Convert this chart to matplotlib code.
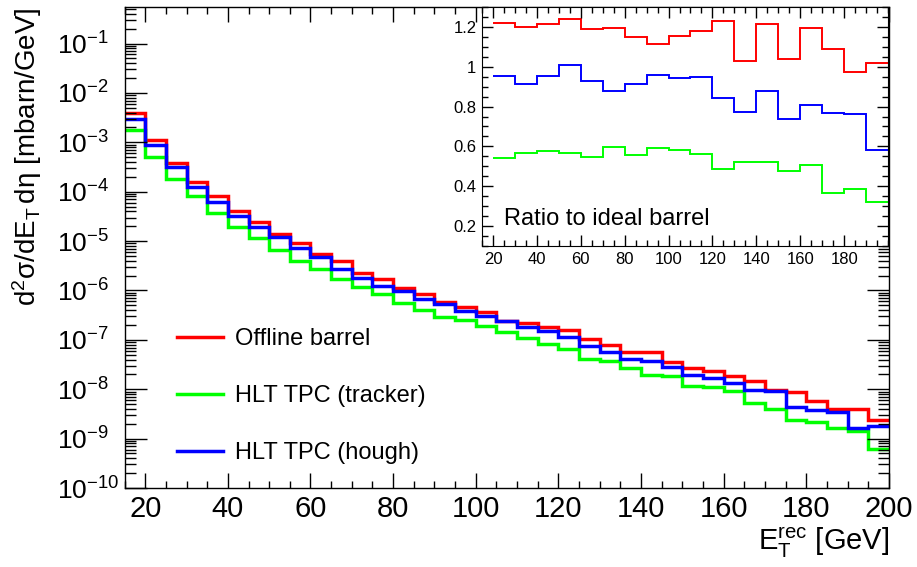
import numpy as np
import matplotlib.pyplot as plt
from matplotlib.ticker import MultipleLocator, LogLocator, NullFormatter
from matplotlib.lines import Line2D

plt.rcParams['font.family'] = ['Liberation Sans', 'DejaVu Sans']
plt.rcParams['mathtext.fontset'] = 'custom'
plt.rcParams['mathtext.rm'] = 'Liberation Sans'
plt.rcParams['mathtext.it'] = 'Liberation Sans'
plt.rcParams['mathtext.sf'] = 'Liberation Sans'
plt.rcParams['mathtext.default'] = 'rm'

# E_T bins (5 GeV from 15 to 200)
edges = np.arange(15, 205, 5)

offline = [4.0e-3, 1.1e-3, 3.9e-4, 1.57e-4, 8.2e-5, 4.06e-5, 2.43e-5, 1.37e-5, 9.2e-6, 5.4e-6,
           3.93e-6, 2.21e-6, 1.67e-6, 1.13e-6, 8.3e-7, 5.9e-7, 4.6e-7, 3.68e-7, 2.46e-7,
           2.2e-7, 1.83e-7, 1.57e-7, 1.06e-7, 7.7e-8, 5.6e-8, 5.6e-8, 3.5e-8, 2.74e-8, 2.38e-8,
           1.89e-8, 1.49e-8, 9.8e-9, 8.8e-9, 5.7e-9, 3.9e-9, 3.9e-9, 2.37e-9]
hough = [2.9e-3, 8.9e-4, 3.1e-4, 1.26e-4, 6.3e-5, 3.17e-5, 1.95e-5, 1.2e-5, 7.1e-6, 4.8e-6,
         2.74e-6, 1.8e-6, 1.24e-6, 9.7e-7, 6.6e-7, 5.2e-7, 3.8e-7, 3.11e-7, 2.38e-7,
         1.8e-7, 1.49e-7, 1.13e-7, 7.4e-8, 5.6e-8, 4.1e-8, 3.68e-8, 2.78e-8, 1.98e-8, 1.69e-8,
         1.34e-8, 9.5e-9, 9.06e-9, 4.3e-9, 3.73e-9, 3.45e-9, 1.63e-9, 1.79e-9]
tracker = [1.76e-3, 5.0e-4, 1.79e-4, 8.2e-5, 3.75e-5, 1.95e-5, 1.15e-5, 6.6e-6, 4.0e-6, 2.67e-6,
           1.67e-6, 1.2e-6, 8.3e-7, 5.6e-7, 4.1e-7, 2.87e-7, 2.58e-7, 1.95e-7, 1.43e-7,
           1.09e-7, 8.3e-8, 6.4e-8, 4.05e-8, 3.8e-8, 2.69e-8, 1.98e-8, 1.83e-8, 1.18e-8, 1.09e-8,
           9.06e-9, 5.25e-9, 3.97e-9, 2.34e-9, 2.13e-9, 1.63e-9, 1.45e-9, 6.1e-10]

# ratio bins (10 GeV from 20 to 200)
ratio_edges = np.arange(20, 210, 10)
ratio_offline = [1.222, 1.20, 1.215, 1.238, 1.187, 1.193, 1.15, 1.115, 1.152, 1.177,
                 1.23, 1.028, 1.213, 1.038, 1.195, 1.088, 0.973, 1.018]
ratio_hough = [0.953, 0.913, 0.952, 1.007, 0.93, 0.88, 0.915, 0.96, 0.942, 0.947,
               0.845, 0.773, 0.88, 0.738, 0.81, 0.768, 0.762, 0.583]
ratio_tracker = [0.54, 0.568, 0.577, 0.567, 0.548, 0.595, 0.558, 0.59, 0.58, 0.56,
                 0.488, 0.523, 0.52, 0.475, 0.507, 0.365, 0.387, 0.323]

labels = ['Offline barrel', 'HLT TPC (tracker)', 'HLT TPC (hough)']
colors = ['#ff0000', '#00ff00', '#0000ff']
exps = list(range(-10, 0))
xticks = list(range(20, 201, 20))
inset_xticks = list(range(20, 181, 20))
inset_yticks = [0.2, 0.4, 0.6, 0.8, 1.0, 1.2]
inset_ylabels = ['0.2', '0.4', '0.6', '0.8', '1', '1.2']

fig = plt.figure(figsize=(9.17, 5.67), dpi=100)
ax = fig.add_axes([0.1358, 0.1393, 0.8337, 0.8484])

for vals, c in zip([offline, tracker, hough], [colors[0], colors[1], colors[2]]):
    ax.stairs(vals, edges, baseline=None, color=c, lw=2.5)

ax.set_yscale('log')
ax.set_xlim(15, 200)
ax.set_ylim(1e-10, 0.55)
ax.set_yticks([10.0 ** e for e in exps])
ax.set_yticklabels(['$10^{%d}$' % e for e in exps], ha='left')
ax.yaxis.set_minor_locator(LogLocator(base=10, subs=np.arange(2, 10), numticks=30))
ax.yaxis.set_minor_formatter(NullFormatter())
ax.set_xticks(xticks)
ax.xaxis.set_minor_locator(MultipleLocator(5))

ax.tick_params(which='both', direction='in', top=True, right=True, width=1, colors='black')
ax.tick_params(axis='x', which='major', length=11, labelsize=21, pad=5)
ax.tick_params(axis='x', which='minor', length=5)
ax.tick_params(axis='y', which='major', length=16, labelsize=19, pad=48.5)
ax.tick_params(axis='y', which='minor', length=8)
for s in ax.spines.values():
    s.set_linewidth(1)

ax.set_ylabel(r'd$^{2}\sigma$/dE$_{T}\,$d$\eta$ [mbarn/GeV]', fontsize=20, loc='top')
ax.yaxis.set_label_coords(-0.105, 1.0)
ax.set_xlabel(r'E$_{T}^{rec}$ [GeV]', fontsize=21, loc='right')
ax.xaxis.set_label_coords(1.0, -0.079)

handles = [Line2D([], [], color=c, lw=2.5) for c in colors]
fig.legend(handles, labels, loc='upper left', bbox_to_anchor=(0.193, 0.4214),
           frameon=False, fontsize=17, borderpad=0, borderaxespad=0,
           handlelength=1.95, handletextpad=0.5, labelspacing=1.49)

# inset with ratios
axin = fig.add_axes([0.5256, 0.5661, 0.4428, 0.4216])
axin.set_facecolor('white')
for vals, c in zip([ratio_offline, ratio_tracker, ratio_hough], [colors[0], colors[1], colors[2]]):
    axin.stairs(vals, ratio_edges, baseline=None, color=c, lw=1.4)
axin.set_xlim(15, 200)
axin.set_ylim(0.1, 1.3)
axin.set_xticks(inset_xticks)
axin.xaxis.set_minor_locator(MultipleLocator(5))
axin.set_yticks(inset_yticks)
axin.set_yticklabels(inset_ylabels)
axin.yaxis.set_minor_locator(MultipleLocator(0.05))
axin.tick_params(which='both', direction='in', top=True, right=True, width=1, labelsize=12)
axin.tick_params(which='major', length=8, pad=4)
axin.tick_params(which='minor', length=4)
axin.text(0.054, 0.088, 'Ratio to ideal barrel', transform=axin.transAxes,
          fontsize=17, va='baseline', ha='left')

fig.savefig('out.png', dpi=100)
